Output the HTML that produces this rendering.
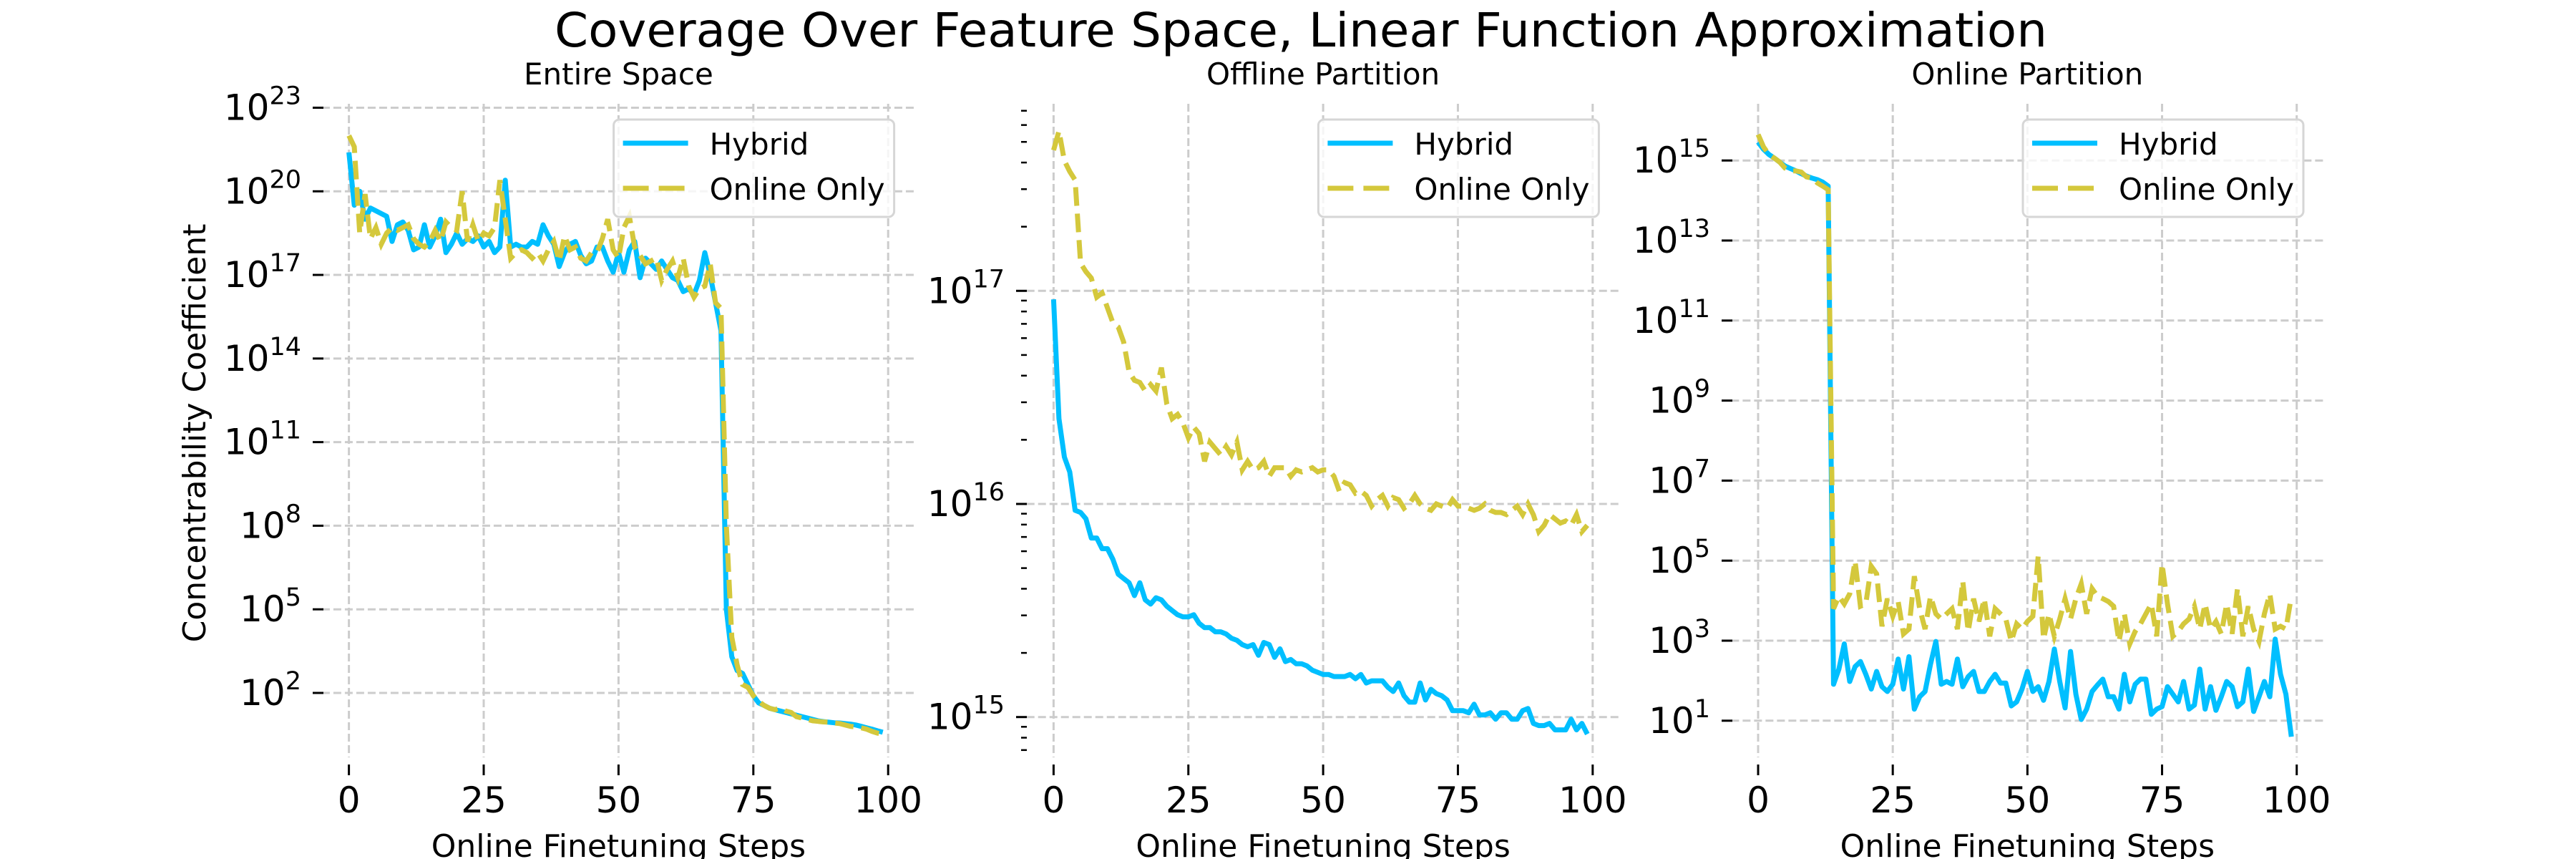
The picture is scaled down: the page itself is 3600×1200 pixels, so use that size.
<!DOCTYPE html>
<html><head><meta charset="utf-8">
<style>
html,body{margin:0;padding:0;background:#fff;}
svg{display:block;font-family:"DejaVu Sans","Liberation Sans",sans-serif;}
</style></head>
<body>
<svg id="fig" xmlns="http://www.w3.org/2000/svg" width="3600" height="1200" viewBox="0 0 3600 1200">
<rect width="3600" height="1200" fill="#fff"/>
<text x="1818" y="65" font-size="66" text-anchor="middle" textLength="2086" lengthAdjust="spacingAndGlyphs">Coverage Over Feature Space, Linear Function Approximation</text>
</svg>
<script>
const steps = Array.from({length:100},(_,i)=>i);
const xTicks = [0,25,50,75,100];
const legendLabels = ["Hybrid","Online Only"];
const entryTicks = [2,5,8,11,14,17,20,23];
const offlineTicks = [15,16,17];
const onlineTicks = [1,3,5,7,9,11,13,15];

// log10 values
const entireHybrid = [21.4,19.5,20.0,19.0,19.4,19.3,19.2,19.1,18.2,18.8,18.9,18.6,17.9,18.0,18.8,18.0,18.4,19.0,17.8,18.1,18.5,18.1,18.3,18.2,18.4,18.0,18.2,17.8,18.0,20.4,18.0,18.1,18.0,18.0,18.2,18.1,18.8,18.4,18.1,17.3,17.8,18.1,18.2,17.7,17.4,17.5,18.0,18.0,17.5,17.1,17.8,17.1,17.9,18.2,16.9,17.6,17.4,17.2,17.5,17.2,16.9,16.8,16.4,16.5,16.3,16.8,17.8,17.0,16.0,15.0,5.0,3.3,2.8,2.7,2.3,1.9,1.64,1.55,1.45,1.4,1.35,1.3,1.25,1.2,1.15,1.1,1.05,1.0,0.97,0.95,0.93,0.92,0.9,0.88,0.85,0.8,0.75,0.7,0.64,0.59];
const entireOnline = [22.0,21.6,18.5,19.9,18.3,18.7,18.1,18.5,18.7,18.6,18.7,18.8,18.3,18.1,18.0,18.2,18.6,18.2,18.9,18.7,18.6,20.0,18.2,18.8,18.2,18.5,18.4,18.7,20.4,19.0,17.6,17.8,17.9,17.8,17.6,17.8,17.5,17.9,18.2,17.5,18.4,17.9,18.0,17.6,17.5,17.8,17.8,18.3,19.0,17.9,17.6,18.7,19.1,18.0,17.7,17.4,17.5,17.6,16.8,17.2,17.5,16.9,17.6,16.6,16.2,16.5,16.6,17.4,16.0,15.8,8.0,4.0,3.0,2.3,2.2,1.9,1.7,1.55,1.45,1.4,1.45,1.35,1.3,1.15,1.1,1.05,1.0,0.98,0.96,0.95,0.92,0.9,0.85,0.8,0.78,0.75,0.7,0.62,0.56,0.52];
const offlineHybrid = [16.96,16.40,16.22,16.15,15.97,15.96,15.93,15.84,15.84,15.79,15.79,15.74,15.67,15.65,15.63,15.57,15.63,15.55,15.53,15.56,15.55,15.52,15.50,15.48,15.47,15.47,15.48,15.44,15.42,15.42,15.40,15.40,15.39,15.37,15.36,15.34,15.33,15.34,15.29,15.35,15.34,15.28,15.32,15.26,15.27,15.25,15.25,15.24,15.22,15.21,15.20,15.20,15.19,15.19,15.19,15.20,15.18,15.20,15.16,15.17,15.17,15.17,15.14,15.12,15.16,15.10,15.07,15.07,15.16,15.08,15.13,15.11,15.10,15.08,15.03,15.03,15.03,15.02,15.06,15.01,15.01,15.02,14.99,15.02,15.02,14.99,14.99,15.03,15.04,14.97,14.96,14.96,14.97,14.94,14.94,14.94,14.99,14.94,14.97,14.92];
const offlineOnline = [17.66,17.75,17.61,17.56,17.52,17.13,17.09,17.06,16.97,16.99,16.92,16.85,16.83,16.76,16.62,16.58,16.57,16.53,16.56,16.53,16.64,16.47,16.40,16.42,16.38,16.31,16.36,16.33,16.20,16.29,16.26,16.23,16.27,16.23,16.29,16.16,16.20,16.16,16.17,16.20,16.13,16.17,16.17,16.17,16.13,16.16,16.15,16.16,16.17,16.15,16.16,16.16,16.13,16.06,16.10,16.09,16.05,16.06,16.04,15.99,16.02,16.04,15.99,16.03,16.02,15.98,16.00,16.04,16.00,15.98,15.97,16.00,15.99,15.98,16.02,15.99,15.99,15.98,15.97,15.98,16.00,15.97,15.96,15.96,15.95,15.97,15.99,15.95,16.00,15.95,15.87,15.90,15.95,15.93,15.91,15.92,15.90,15.95,15.87,15.90];
const onlineHybrid = [15.46,15.28,15.15,15.06,14.96,14.86,14.80,14.74,14.67,14.61,14.56,14.52,14.46,14.36,1.91,2.29,2.92,1.98,2.35,2.48,2.16,1.79,2.23,1.85,1.73,1.91,2.54,1.79,2.60,1.29,1.60,1.73,2.41,2.98,1.91,1.98,1.91,2.54,1.85,2.10,2.23,1.73,1.73,1.98,2.16,1.94,1.94,1.37,1.47,1.79,2.23,1.73,1.85,1.51,1.98,2.79,1.98,1.32,2.73,1.66,1.03,1.29,1.73,1.89,2.04,1.60,1.60,1.29,2.16,1.47,1.91,2.04,2.04,1.16,1.29,1.35,1.85,1.66,1.47,1.98,1.29,1.39,2.29,1.29,1.85,1.26,1.60,1.98,1.85,1.35,1.47,2.29,1.23,1.60,1.98,1.60,3.04,2.16,1.66,0.60];
const onlineOnline = [15.65,15.34,15.15,15.06,14.96,14.81,14.74,14.74,14.71,14.59,14.56,14.44,14.36,14.27,3.80,4.11,3.92,4.17,4.99,3.86,3.92,4.86,4.67,3.36,4.05,3.61,3.98,3.17,3.29,4.61,3.80,3.29,4.11,3.67,3.54,3.67,3.80,3.29,4.49,3.23,4.05,3.48,4.05,3.11,3.80,3.67,3.54,2.98,3.42,3.29,3.48,3.61,5.11,3.04,3.67,3.11,3.54,4.05,3.54,4.05,4.42,3.67,4.30,4.11,4.05,3.98,3.86,2.98,3.67,2.92,3.23,3.42,3.67,3.92,3.11,4.92,3.92,3.11,3.23,3.42,3.54,3.86,3.29,3.92,3.29,3.48,3.17,3.92,3.17,4.30,3.11,3.86,3.29,2.98,3.67,4.17,3.29,3.36,3.29,4.11];

const NS="http://www.w3.org/2000/svg";
const fig=document.getElementById('fig');
function mk(tag,attrs,parent){const e=document.createElementNS(NS,tag);for(const k in attrs)e.setAttribute(k,attrs[k]);(parent||fig).appendChild(e);return e;}

const panels=[
 {title:"Entire Space",x0:487.6,ppx:7.536,yRef:2,yRefPx:968,ppd:38.93,ticks:entryTicks,minor:false,hy:entireHybrid,on:entireOnline,lblRight:421,tick0:437,ylabel:true},
 {title:"Offline Partition",x0:1472.4,ppx:7.534,yRef:16,yRefPx:704,ppd:297.7,ticks:offlineTicks,minor:true,hy:offlineHybrid,on:offlineOnline,lblRight:1404,tick0:1420,ylabel:false},
 {title:"Online Partition",x0:2457,ppx:7.527,yRef:15,yRefPx:224.2,ppd:55.9,ticks:onlineTicks,minor:false,hy:onlineHybrid,on:onlineOnline,lblRight:2390,tick0:2406,ylabel:false}
];
const TOP=145,BOT=1058;
panels.forEach((p,pi)=>{
  const X=v=>p.x0+v*p.ppx;
  const Y=v=>p.yRefPx-(v-p.yRef)*p.ppd;
  const g=mk('g',{});
  
  
  const L=X(-5),R=X(105);
  const cx=(L+R)/2;
  const t=mk('text',{x:cx,y:118,'font-size':42,'text-anchor':'middle'},g);
  t.textContent=p.title;
  
  
  p.ticks.forEach(v=>{
    const gy=Y(v);
    const ln=mk('line',{x1:L,x2:R,y1:gy,y2:gy,stroke:'#cccccc','stroke-width':3,'stroke-dasharray':'11,5'},g);
    
    
    const tk=mk('line',{x1:p.tick0,x2:p.tick0+15,y1:gy,y2:gy,stroke:'#000','stroke-width':3},g);
    
    
    const tl=mk('text',{x:p.lblRight,y:gy+17,'font-size':50,'text-anchor':'end'},g);
    
    
    const b=document.createElementNS(NS,'tspan');b.textContent='10';tl.appendChild(b);
    const s=document.createElementNS(NS,'tspan');s.setAttribute('dy','-22');s.setAttribute('font-size','35');s.textContent=String(v);tl.appendChild(s);
  });
  if(p.minor){
    for(let k=13;k<=18;k++){for(let m=2;m<=9;m++){const v=k+Math.log10(m);const yy=Y(v);if(yy<TOP||yy>BOT)continue;
      const mt=mk('line',{x1:p.tick0+7,x2:p.tick0+15,y1:yy,y2:yy,stroke:'#000','stroke-width':2.5},g);
      
      }}
  }
  xTicks.forEach(v=>{
    const gx=X(v);
    const ln=mk('line',{x1:gx,x2:gx,y1:TOP,y2:BOT,stroke:'#cccccc','stroke-width':3,'stroke-dasharray':'11,5'},g);
    
    
    const tk=mk('line',{x1:gx,x2:gx,y1:1068,y2:1083,stroke:'#000','stroke-width':3},g);
    
    
    const tl=mk('text',{x:gx,y:1135,'font-size':50,'text-anchor':'middle'},g);
    tl.textContent=String(v);
    
    
  });
  const xl=mk('text',{x:X(50),y:1197,'font-size':44,'text-anchor':'middle'},g);
  xl.textContent='Online Finetuning Steps';
  
  
  if(p.ylabel){
    const yl=mk('text',{x:0,y:0,'font-size':44,'text-anchor':'middle',transform:'translate(287,605) rotate(-90)'},g);
    yl.textContent='Concentrability Coefficient';
    
    
  }
  const ptsH=steps.map((s,i)=>X(s).toFixed(1)+','+Y(p.hy[i]).toFixed(1)).join(' ');
  const ptsO=steps.map((s,i)=>X(s).toFixed(1)+','+Y(p.on[i]).toFixed(1)).join(' ');
  const lh=mk('polyline',{points:ptsH,fill:'none',stroke:'#00bfff','stroke-width':7,'stroke-linejoin':'round'},g);
  
  
  const lo=mk('polyline',{points:ptsO,fill:'none',stroke:'#d4c83c','stroke-width':7,'stroke-dasharray':'26,11'},g);
  
  
  const lx=p.x0+370;
  const leg=mk('g',{},g);
  
  
  mk('rect',{x:lx,y:167,width:392,height:136,rx:8,fill:'#fff','fill-opacity':0.8,stroke:'#d6d6d6','stroke-width':3},leg);
  const e1=mk('line',{x1:lx+13,x2:lx+104,y1:200,y2:200,stroke:'#00bfff','stroke-width':7},leg);
  
  
  const e2=mk('line',{x1:lx+13,x2:lx+104,y1:263,y2:263,stroke:'#d4c83c','stroke-width':7,'stroke-dasharray':'36,14'},leg);
  
  
  legendLabels.forEach((lab,i)=>{
    const tt=mk('text',{x:lx+134,y:216+i*63,'font-size':42},leg);
    tt.textContent=lab;
    
    
  });
});
</script>
</body></html>
